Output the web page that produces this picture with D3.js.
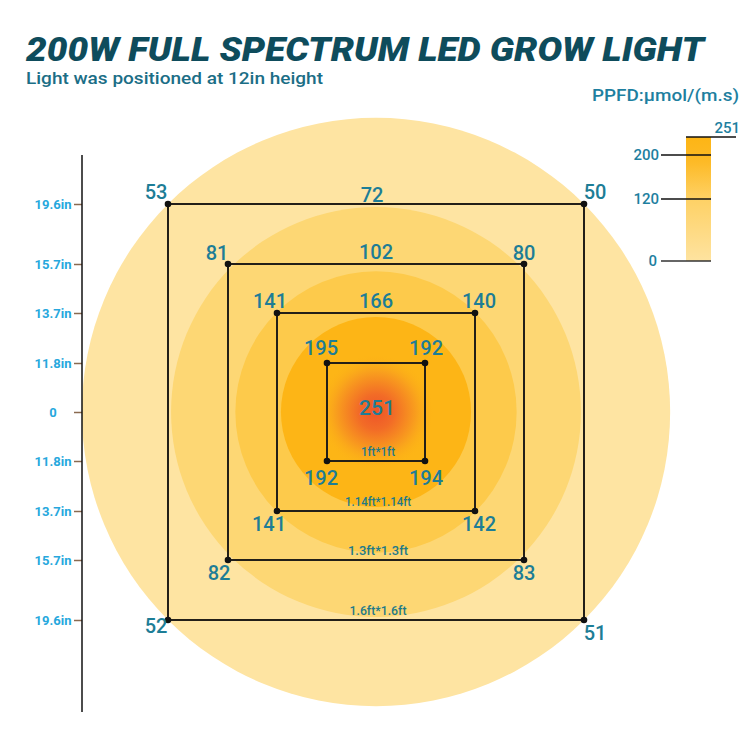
<!DOCTYPE html>
<html><head><meta charset="utf-8">
<script src="https://cdn.jsdelivr.net/npm/d3@7"></script>
<style>
html,body{margin:0;padding:0;background:#fff;}
svg{display:block;}
</style></head>
<body>
<script>
// ---------- data ----------
const title = "200W FULL SPECTRUM LED GROW LIGHT";
const subtitle = "Light was positioned at 12in height";
const unitLabel = "PPFD:\u00b5mol/(m.s)";

// measurement squares (side length in inches, inner to outer)
const squareInches = [11.8, 13.7, 15.7, 19.6];
const squareNames = ["1ft*1ft", "1.14ft*1.14ft", "1.3ft*1.3ft", "1.6ft*1.6ft"];
const topLeftPPFD = [195, 141, 81, 53];
const topRightPPFD = [192, 140, 80, 50];
const bottomLeftPPFD = [192, 141, 82, 52];
const bottomRightPPFD = [194, 142, 83, 51];
const topMidPPFD = [null, 166, 102, 72];
const centerPPFD = 251;

// axis ticks (inches from centre)
const axisTicks = [19.6, 15.7, 13.7, 11.8, 0, -11.8, -13.7, -15.7, -19.6];

// light-footprint zones (extent in inches, outer to inner)
const zoneInches = [25.2, 19.4, 15.4, 13.55];
const zoneColors = ["#FEE4A2", "#FDD774", "#FDCA4B", "#FDB516"];

// legend
const legendTicks = [0, 120, 200, 251];

// ---------- layout ----------
const W = 750, H = 750;
const cx = 376, cy = 412;
const svg = d3.select("body").append("svg").attr("width", W).attr("height", H);

// half-size scale: side-length inches -> pixel half extent
const half = d3.scaleLinear()
  .domain([0, 11.8, 13.7, 15.7, 19.6])
  .range([0, 49, 99, 148, 208]);

const defs = svg.append("defs");
const rg = defs.append("radialGradient").attr("id", "hot");
rg.append("stop").attr("offset", "0%").attr("stop-color", "#EE5529");
rg.append("stop").attr("offset", "30%").attr("stop-color", "#F26B27");
rg.append("stop").attr("offset", "70%").attr("stop-color", "#F9A01D");
rg.append("stop").attr("offset", "100%").attr("stop-color", "#FDB516").attr("stop-opacity", 0);

const lg = defs.append("linearGradient").attr("id", "bar").attr("x1", 0).attr("x2", 0).attr("y1", 0).attr("y2", 1);
lg.append("stop").attr("offset", "0%").attr("stop-color", "#FDB515");
lg.append("stop").attr("offset", "20%").attr("stop-color", "#FDBA26");
lg.append("stop").attr("offset", "50%").attr("stop-color", "#FED165");
lg.append("stop").attr("offset", "100%").attr("stop-color", "#FEE3A0");

// zones
svg.append("g").selectAll("circle").data(zoneInches).join("circle")
  .attr("cx", cx).attr("cy", cy)
  .attr("r", d => half(d))
  .attr("fill", (d, i) => zoneColors[i]);
svg.append("circle").attr("cx", cx).attr("cy", cy).attr("r", 58).attr("fill", "url(#hot)");

// squares
const sq = svg.append("g");
squareInches.forEach((s, i) => {
  const h = half(s);
  sq.append("rect").attr("x", cx - h).attr("y", cy - h)
    .attr("width", 2 * h).attr("height", 2 * h)
    .attr("fill", "none").attr("stroke", "#231f18").attr("stroke-width", 2);
  [[-1, -1], [1, -1], [-1, 1], [1, 1]].forEach(([sx, sy]) => {
    sq.append("circle").attr("cx", cx + sx * h).attr("cy", cy + sy * h).attr("r", 3.3).attr("fill", "#111");
  });
});

// corner labels
const numStyle = sel => sel.attr("font-family", "Roboto, 'DejaVu Sans', sans-serif")
  .attr("font-weight", 500).attr("font-size", 20).attr("fill", "#1D7D96").attr("text-anchor", "middle");
const offs = {
  tl: [[-6, -8], [-7, -5], [-11, -4], [-12, -5]],
  tr: [[1, -8], [4, -5], [0, -4], [11, -5]],
  bl: [[-6, 24], [-8, 20], [-9, 20], [-12, 13]],
  br: [[1, 24], [4, 20], [0, 20], [11, 20]]
};
const lbl = svg.append("g");
squareInches.forEach((s, i) => {
  const h = half(s);
  const add = (x, y, t) => lbl.append("text").call(numStyle).attr("x", x).attr("y", y).text(t);
  add(cx - h + offs.tl[i][0], cy - h + offs.tl[i][1], topLeftPPFD[i]);
  add(cx + h + offs.tr[i][0], cy - h + offs.tr[i][1], topRightPPFD[i]);
  add(cx - h + offs.bl[i][0], cy + h + offs.bl[i][1], bottomLeftPPFD[i]);
  add(cx + h + offs.br[i][0], cy + h + offs.br[i][1], bottomRightPPFD[i]);
  if (topMidPPFD[i] !== null) add(cx + (i === 3 ? -4 : 0), cy - h - (i === 3 ? 2 : 5), topMidPPFD[i]);
  lbl.append("text").attr("x", cx + 2).attr("y", cy + h - 5)
    .attr("font-family", "Roboto, sans-serif").attr("font-size", 13).attr("font-weight", 500)
    .attr("fill", "#1F7A88").attr("text-anchor", "middle")
    .attr("textLength", [34, 66, 60, 57][i]).attr("lengthAdjust", "spacingAndGlyphs")
    .text(squareNames[i]);
});
lbl.append("text").call(numStyle).attr("font-size", 21).attr("x", cx + 1).attr("y", cy + 3).text(centerPPFD);

// left axis
const y = d3.scaleLinear()
  .domain([-19.6, -15.7, -13.7, -11.8, 0, 11.8, 13.7, 15.7, 19.6])
  .range([-19.6, -15.7, -13.7, -11.8, 0, 11.8, 13.7, 15.7, 19.6].map(v => cy - Math.sign(v) * half(Math.abs(v))));
const ax = svg.append("g").attr("transform", "translate(82,0)")
  .call(d3.axisLeft(y).tickValues(axisTicks).tickSize(8).tickPadding(4)
    .tickFormat(d => d === 0 ? "0" : Math.abs(d) + "in"));
ax.select(".domain").remove();
ax.selectAll(".tick line").attr("stroke", "#8A6A50").attr("stroke-width", 1.5);
ax.selectAll(".tick text").attr("x", -29).attr("text-anchor", "middle")
  .attr("font-family", "Roboto, sans-serif").attr("font-size", 13).attr("font-weight", 700).attr("fill", "#27A8DD");
svg.append("line").attr("x1", 82).attr("x2", 82).attr("y1", 155).attr("y2", 712)
  .attr("stroke", "#111").attr("stroke-width", 1.5);

// legend
const ly = d3.scaleLinear().domain([0, 120, 200, 251]).range([261, 199, 155, 137]);
svg.append("rect").attr("x", 686).attr("y", ly(251)).attr("width", 25)
  .attr("height", ly(0) - ly(251)).attr("fill", "url(#bar)");
const lgG = svg.append("g");
legendTicks.forEach(v => {
  const top = v === 251;
  lgG.append("line").attr("x1", top ? 686 : 661).attr("x2", top ? 736 : 711)
    .attr("y1", ly(v)).attr("y2", ly(v)).attr("stroke", v === 0 ? "#333" : "#111").attr("stroke-width", 1.6);
  lgG.append("text").attr("x", top ? 740 : (v === 0 ? 657 : 659)).attr("y", top ? ly(v) - 4 : ly(v) + 5)
    .attr("text-anchor", "end").attr("font-family", "Roboto, sans-serif").attr("font-size", 15)
    .attr("font-weight", 500).attr("fill", "#1E7FA0").text(v);
});

// titles
svg.append("text").attr("x", 26).attr("y", 61)
  .attr("font-family", "Roboto, 'DejaVu Sans', sans-serif").attr("font-weight", 900).attr("font-style", "italic")
  .attr("font-size", 33).attr("fill", "#0E4C5C")
  .attr("textLength", 678).attr("lengthAdjust", "spacingAndGlyphs").text(title);
svg.append("text").attr("x", 26).attr("y", 84)
  .attr("font-family", "Roboto, sans-serif").attr("font-weight", 500).attr("font-size", 17).attr("fill", "#1B6E86")
  .attr("textLength", 297).attr("lengthAdjust", "spacingAndGlyphs").text(subtitle);
svg.append("text").attr("x", 739).attr("y", 101).attr("text-anchor", "end")
  .attr("font-family", "Roboto, sans-serif").attr("font-weight", 500).attr("font-size", 17).attr("fill", "#1E7FA0")
  .attr("textLength", 147).attr("lengthAdjust", "spacingAndGlyphs").text(unitLabel);
</script>
</body></html>
